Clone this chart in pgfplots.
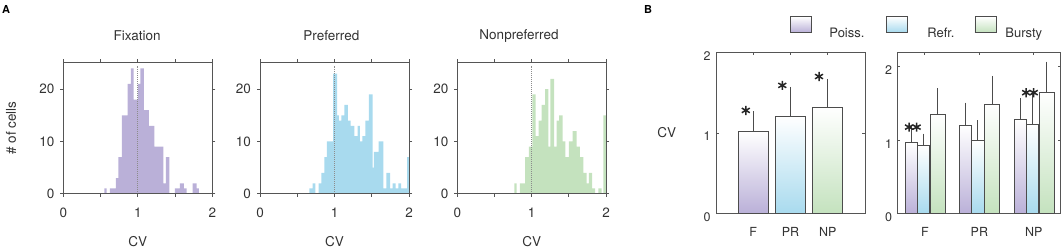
\documentclass[border=0pt]{standalone}
\usepackage{pgfplots}
\pgfplotsset{compat=1.18}
\usepackage{fontspec}
\setmainfont{TeX Gyre Heros}
\definecolor{purp}{RGB}{186,176,216}
\definecolor{sky}{RGB}{168,218,238}
\definecolor{sage}{RGB}{196,226,190}
\definecolor{axc}{RGB}{85,85,85}
\definecolor{txc}{RGB}{50,50,50}
\pgfplotsset{
  histax/.style={
    scale only axis, width=149bp, height=131.4bp, anchor=south west,
    xmin=0, xmax=2, ymin=0, ymax=25.15,
    xtick={0,0.5,1,1.5,2}, xticklabels={0,,1,,2},
    ytick={0,10,20},
    tick align=outside, major tick length=3bp,
    axis line style={draw=axc, line width=1bp},
    every tick/.style={draw=axc, line width=1bp},
    ticklabel style={font=\fontsize{13.5bp}{16bp}\selectfont, text=txc},
    xticklabel style={yshift=-8bp},
    yticklabel style={xshift=-2.5bp},
    /pgf/number format/assume math mode=true,
    axis on top,
    title style={font=\fontsize{13.5bp}{16bp}\selectfont, text=txc, anchor=center},
    xlabel style={font=\fontsize{13.5bp}{16bp}\selectfont, text=txc, at={(axis description cs:0.5,-0.368)}, anchor=center},
    xlabel={CV},
  },
  barax/.style={
    scale only axis, height=161.4bp, anchor=south west,
    ymin=0,
    tick align=inside, major tick length=2.7bp,
    axis line style={draw=axc, line width=1bp},
    every tick/.style={draw=axc, line width=1bp},
    ticklabel style={font=\fontsize{12.5bp}{15bp}\selectfont, text=txc},
    xticklabel style={yshift=-10bp},
    yticklabel style={yshift=-3.5bp, xshift=-2bp},
    /pgf/number format/assume math mode=true,
  },
  pbar/.style={ybar, bar shift=0pt, draw=black!70, line width=0.9bp, top color=white, bottom color=#1,
    error bars/y dir=plus, error bars/y explicit,
    error bars/error bar style={draw=black!70, line width=1bp},
    error bars/error mark options={draw=black!70, line width=1bp, mark size=2.5bp}},
  star/.style={only marks, mark=asterisk, mark size=4.6bp, mark options={draw=black!85, line width=1.5bp}},
}
\begin{document}
\begin{tikzpicture}
\path[use as bounding box] (0,0) rectangle (1062bp,251bp);
\node[font=\bfseries\fontsize{11bp}{13bp}\selectfont, anchor=center] at (6bp,242bp) {A};
\node[font=\bfseries\fontsize{11bp}{13bp}\selectfont, anchor=center] at (648bp,242bp) {B};

% Fixation
\begin{axis}[histax, at={(63.3bp,57.3bp)}, title={Fixation},
  title style={at={(axis description cs:0.496,1.158)}},
  ylabel={\# of cells},
  ylabel style={font=\fontsize{13.5bp}{16bp}\selectfont, text=txc, at={(axis description cs:-0.351,0.5)}, anchor=center}]
\addplot[fill=purp, draw=none, const plot] coordinates {
(0.55,1)(0.582,0)(0.626,1)(0.707,3)(0.738,7)(0.787,15)(0.864,21)(0.908,24)(0.944,18)(1.0,21)(1.036,24)(1.08,16)(1.15,13)(1.221,9)(1.342,2)(1.378,7)(1.423,0)(1.499,1)(1.566,2)(1.62,1)(1.655,0)(1.736,2)(1.79,1)(1.821,0)} \closedcycle;
\addplot[densely dotted, black!45, line width=1bp] coordinates {(1,0) (1,24.5)};
\end{axis}

% Preferred
\begin{axis}[histax, at={(260bp,57.3bp)}, title={Preferred},
  title style={at={(axis description cs:0.479,1.158)}}]
\addplot[fill=sky, draw=none, const plot] coordinates {
(0.662,1)(0.707,2)(0.743,0)(0.787,2)(0.823,4)(0.864,7)(0.899,10)(0.98,23)(1.034,15)(1.06,14)(1.092,15)(1.132,17)(1.181,14)(1.217,13)(1.266,11)(1.311,13)(1.342,10)(1.374,11)(1.414,14)(1.463,19)(1.512,5)(1.53,8)(1.593,10)(1.655,1)(1.696,4)(1.745,1)(1.781,2)(1.821,1)(1.857,2)(1.893,1)(1.975,7)(2.0,0)} \closedcycle;
\addplot[densely dotted, black!45, line width=1bp] coordinates {(1,0) (1,24.5)};
\end{axis}

% Nonpreferred
\begin{axis}[histax, at={(457.3bp,57.3bp)}, width=148.7bp, title={Nonpreferred},
  title style={at={(axis description cs:0.415,1.158)}}]
\addplot[fill=sage, draw=none, const plot] coordinates {
(0.767,2)(0.798,0)(0.843,2)(0.911,7)(0.964,9)(1.009,19)(1.054,11)(1.094,14)(1.135,17)(1.18,20)(1.224,9)(1.251,22)(1.301,9)(1.337,14)(1.368,15)(1.417,10)(1.453,7)(1.502,10)(1.552,12)(1.606,9)(1.65,7)(1.695,4)(1.74,2)(1.771,4)(1.812,1)(1.852,0)(1.897,1)(1.942,0)(1.964,15)(2.0,0)} \closedcycle;
\addplot[densely dotted, black!45, line width=1bp] coordinates {(1,0) (1,24.5)};
\end{axis}

% B left
\begin{axis}[barax, at={(716bp,37.3bp)}, width=149bp,
  xmin=0, xmax=4, ymax=2, xtick={1,2,3}, xticklabels={F,PR,NP}, ytick={0,1,2},
  ylabel={CV},
  ylabel style={font=\fontsize{13.5bp}{16bp}\selectfont, text=txc, rotate=-90, at={(axis description cs:-0.33,0.5)}, anchor=center},
  legend style={at={(0.4966,1.093)}, anchor=south west, draw=none, fill=none, inner sep=0pt,
    legend columns=3, font=\fontsize{13bp}{15bp}\selectfont, text=txc,
    nodes={inner sep=0pt, text depth=0pt},
    /tikz/column 1/.style={column sep=17.3bp},
    /tikz/column 2/.style={column sep=22bp},
    /tikz/column 3/.style={column sep=19bp},
    /tikz/column 4/.style={column sep=20bp},
    /tikz/column 5/.style={column sep=9bp}},
  ]
\addlegendimage{legend image code/.code={\draw[draw=black!70, line width=0.9bp, top color=white, bottom color=purp] (0bp,0bp) rectangle (21bp,15.6bp);}}
\addlegendentry{Poiss.}
\addlegendimage{legend image code/.code={\draw[draw=black!70, line width=0.9bp, top color=white, bottom color=sky] (0bp,0bp) rectangle (21bp,15.6bp);}}
\addlegendentry{Refr.}
\addlegendimage{legend image code/.code={\draw[draw=black!70, line width=0.9bp, top color=white, bottom color=sage] (0bp,0bp) rectangle (21bp,15.6bp);}}
\addlegendentry{Bursty}
\addplot[bar width=0.81, forget plot, pbar=purp] coordinates {(1,1.02) +- (0,0.22)};
\addplot[bar width=0.81, forget plot, pbar=sky] coordinates {(2,1.21) +- (0,0.33)};
\addplot[bar width=0.81, forget plot, pbar=sage] coordinates {(3,1.32) +- (0,0.32)};
\addplot[star, forget plot] coordinates {(0.80,1.28) (1.78,1.59) (2.765,1.70)};
\end{axis}

% B right
\begin{axis}[barax, at={(897.7bp,37.3bp)}, width=162.8bp,
  xmin=0.5, xmax=3.49, ymax=2.2, xtick={1,2,3}, xticklabels={F,PR,NP}, ytick={0,1,2}]
\addplot[bar width=0.22, pbar=purp] coordinates {(0.748,0.965) +- (0,0.215)};
\addplot[bar width=0.227, pbar=sky] coordinates {(0.972,0.924) +- (0,0.132)};
\addplot[bar width=0.275, pbar=sage] coordinates {(1.235,1.357) +- (0,0.318)};
\addplot[bar width=0.22, pbar=purp] coordinates {(1.748,1.202) +- (0,0.278)};
\addplot[bar width=0.227, pbar=sky] coordinates {(1.972,1.001) +- (0,0.237)};
\addplot[bar width=0.275, pbar=sage] coordinates {(2.235,1.493) +- (0,0.351)};
\addplot[bar width=0.22, pbar=purp] coordinates {(2.748,1.284) +- (0,0.256)};
\addplot[bar width=0.227, pbar=sky] coordinates {(2.972,1.22) +- (0,0.374)};
\addplot[bar width=0.275, pbar=sage] coordinates {(3.235,1.657) +- (0,0.383)};
\addplot[star] coordinates {(0.708,1.18) (0.848,1.18) (2.859,1.65) (2.998,1.65)};
\end{axis}
\end{tikzpicture}
\end{document}
